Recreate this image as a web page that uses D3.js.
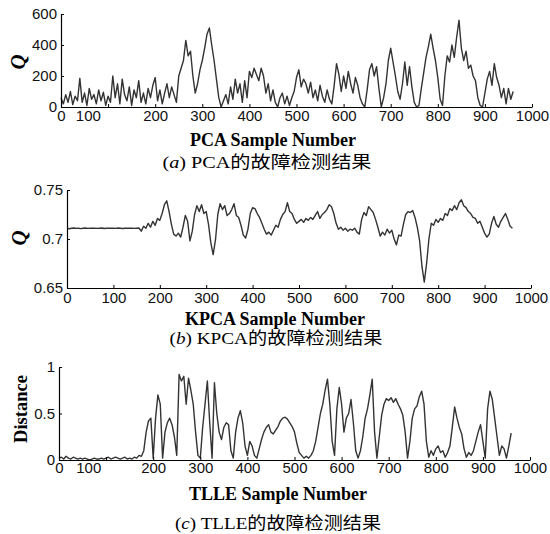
<!DOCTYPE html>
<head>
  <meta charset="utf-8">
  <script src="https://d3js.org/d3.v7.min.js"></script>
  <style>
    body { margin:0; background:#fff; }
    .tick text { font-family: "Liberation Sans", Arial, sans-serif; font-size: 15px; fill: #111; }
    .domain, .tick line { stroke: #000; }
  </style>
</head>

<body>
  <script>

  var width = 550;
  var height = 534;

  var sampleStep = 5;

  var xTickValues = [0, 100, 200, 300, 400, 500, 600, 700, 800, 900, 1000];

  // (a) PCA Q statistic
  var pcaQ = [
    60, 20, 80, 30, 100, 15, 70, 40, 185, 30,
    90, 10, 120, 50, 80, 20, 110, 40, 95, 10,
    70, 30, 200, 60, 150, 20, 180, 80, 40, 130,
    10, 110, 60, 170, 30, 90, 20, 120, 60, 140,
    190, 40, 110, 20, 90, 150, 60, 130, 80, 30,
    200, 250, 300, 430, 330, 360, 200, 90, 150, 240,
    300, 380, 470, 510, 400, 300, 180, 60, 0, 40,
    80, 20, 130, 50, 180, 90, 150, 30, 170, 60,
    230, 190, 250, 210, 170, 250, 200, 90, 150, 40,
    110, 30, 0, 60, 90, 20, 70, 10, 60, 100,
    190, 240, 130, 180, 150, 90, 160, 60, 110, 40,
    140, 70, 30, 110, 50, 20, 140, 280, 210, 100,
    200, 120, 230, 150, 90, 190, 140, 60, 20, 0,
    110, 240, 280, 200, 260, 120, 0, 60, 150, 300,
    380, 290, 200, 100, 50, 150, 290, 140, 260, 130,
    30, 0, 10, 120, 220, 320, 390, 470, 380, 300,
    190, 50, 10, 200, 330, 290, 400, 320, 450, 560,
    380, 300, 360, 250, 270, 200, 170, 60, 10, 0,
    90, 180, 230, 140, 280, 190, 140, 60, 120, 20,
    120, 50, 100
  ];
  var pcaYTicks = [0, 200, 400, 600];

  // (b) KPCA Q statistic
  var kpcaQ = [
    0.711, 0.7105, 0.711, 0.7112, 0.7108, 0.711, 0.7106, 0.711, 0.7112, 0.7108,
    0.711, 0.7109, 0.7111, 0.7108, 0.711, 0.7112, 0.7107, 0.711, 0.7109, 0.7111,
    0.711, 0.7108, 0.7112, 0.711, 0.7107, 0.711, 0.7111, 0.7109, 0.711, 0.7108,
    0.711, 0.7112,
    0.708, 0.713, 0.711, 0.716, 0.712, 0.718, 0.714, 0.721, 0.719, 0.726,
    0.735, 0.739, 0.728, 0.715, 0.705, 0.703, 0.706, 0.702, 0.712, 0.724,
    0.718, 0.698, 0.708, 0.725, 0.734, 0.728, 0.735, 0.726, 0.728, 0.715,
    0.696, 0.684, 0.699, 0.725, 0.736, 0.730, 0.734, 0.724, 0.726, 0.730,
    0.736, 0.724, 0.722, 0.714, 0.704, 0.701, 0.710, 0.726, 0.732, 0.731,
    0.726, 0.722, 0.716, 0.710, 0.705, 0.707, 0.704, 0.709, 0.714, 0.712,
    0.720, 0.725, 0.728, 0.737, 0.728, 0.726, 0.720, 0.716, 0.718, 0.720,
    0.717, 0.721, 0.719, 0.722, 0.720, 0.724, 0.728, 0.721, 0.725, 0.727,
    0.730, 0.735, 0.733, 0.726, 0.716, 0.710, 0.712, 0.709, 0.711, 0.708,
    0.710, 0.709, 0.711, 0.707, 0.705, 0.720, 0.727, 0.724, 0.733, 0.730,
    0.727, 0.720, 0.712, 0.703, 0.707, 0.704, 0.710, 0.706, 0.709, 0.700,
    0.694, 0.704, 0.703, 0.715, 0.725, 0.728, 0.727, 0.729, 0.722, 0.712,
    0.698, 0.672, 0.656, 0.675, 0.700, 0.716, 0.714, 0.720, 0.717, 0.721,
    0.719, 0.726, 0.724, 0.731, 0.729, 0.734, 0.730, 0.737, 0.740, 0.734,
    0.732, 0.728, 0.726, 0.722, 0.721, 0.716, 0.718, 0.712, 0.706, 0.702,
    0.705, 0.716, 0.723, 0.715, 0.712, 0.718, 0.722, 0.726, 0.720, 0.713,
    0.711
  ];
  var kpcaYTicks = [0.65, 0.7, 0.75];

  // (c) TLLE distance
  var tlleD = [
    0.02, 0.03, 0.01, 0.04, 0.02, 0.01, 0.03, 0.02, 0.01, 0.02,
    0.01, 0.02, 0.01, 0.00, 0.01, 0.02, 0.01, 0.01, 0.02, 0.01,
    0.02, 0.03, 0.01, 0.02, 0.03, 0.02, 0.01, 0.02, 0.03, 0.01,
    0.02, 0.01, 0.03, 0.02, 0.05, 0.04,
    0.10, 0.30, 0.42, 0.45, 0.02, 0.45, 0.70, 0.60, 0.02, 0.30,
    0.40, 0.45, 0.38, 0.25, 0.05, 0.92, 0.85, 0.90, 0.60, 0.88,
    0.75, 0.60, 0.30, 0.05, 0.02, 0.35, 0.60, 0.85, 0.40, 0.02,
    0.83, 0.50, 0.30, 0.22, 0.35, 0.40, 0.38, 0.10, 0.02, 0.30,
    0.45, 0.53, 0.40, 0.15, 0.05, 0.20, 0.15, 0.05, 0.02, 0.12,
    0.22, 0.30, 0.35, 0.38, 0.30, 0.28, 0.32, 0.36, 0.42, 0.45,
    0.46, 0.44, 0.40, 0.36, 0.30, 0.18, 0.08, 0.05, 0.02, 0.04,
    0.02, 0.05, 0.10, 0.20, 0.35, 0.50, 0.60, 0.75, 0.87, 0.60,
    0.20, 0.05, 0.55, 0.78, 0.60, 0.30, 0.45, 0.50, 0.65, 0.40,
    0.10, 0.02, 0.10, 0.25, 0.45, 0.55, 0.70, 0.87, 0.30, 0.02,
    0.25, 0.48, 0.60, 0.66, 0.64, 0.67, 0.62, 0.66, 0.60, 0.55,
    0.48, 0.30, 0.02, 0.20, 0.45, 0.55, 0.58, 0.68, 0.74, 0.60,
    0.20, 0.03, 0.10, 0.05, 0.12, 0.15, 0.08, 0.10, 0.03, 0.08,
    0.15, 0.35, 0.57, 0.45, 0.35, 0.28, 0.12, 0.03, 0.08, 0.05,
    0.10, 0.20, 0.30, 0.38, 0.20, 0.02, 0.55, 0.74, 0.65, 0.45,
    0.25, 0.05, 0.15, 0.12, 0.02, 0.15, 0.29
  ];
  var tlleYTicks = [0, 0.5, 1];

  // panel layout; label100At = where the squeezed "100" label sits (in sample units)
  var panels = [
    { values: pcaQ, yDomain: [0, 600], yTicks: pcaYTicks,
      left: 61, right: 532, top: 14, bottom: 107, label100At: 57, tickPad: 3,
      yTitle: "Q", yTitleItalic: true, yTitleBold: true, yTitleX: 18, yTitleY: 62, yTitleSize: 21,
      xTitle: "PCA Sample Number", xTitleX: 273, xTitleY: 146,
      letter: "a", method: "PCA", captionX: 267, captionY: 168, captionW: 209 },
    { values: kpcaQ, yDomain: [0.65, 0.75], yTicks: kpcaYTicks,
      left: 67, right: 531, top: 190, bottom: 288, label100At: 100, tickPad: 4,
      yTitle: "Q", yTitleItalic: true, yTitleBold: true, yTitleX: 19, yTitleY: 238, yTitleSize: 21,
      xTitle: "KPCA Sample Number", xTitleX: 275, xTitleY: 325,
      letter: "b", method: "KPCA", captionX: 276, captionY: 344, captionW: 213 },
    { values: tlleD, yDomain: [0, 1], yTicks: tlleYTicks,
      left: 59, right: 530, top: 367, bottom: 460, label100At: 62, tickPad: 2,
      yTitle: "Distance", yTitleItalic: false, yTitleBold: true, yTitleX: 21, yTitleY: 409, yTitleSize: 18.5,
      xTitle: "TLLE Sample Number", xTitleX: 278, xTitleY: 500,
      letter: "c", method: "TLLE", captionX: 278, captionY: 529, captionW: 206 }
  ];

  var svg = d3.select("body").append("svg")
    .attr("width", width)
    .attr("height", height);

  panels.forEach(function(p) {
    var xScale = d3.scaleLinear().domain([0, 1000]).range([p.left, p.right]);
    var yScale = d3.scaleLinear().domain(p.yDomain).range([p.bottom, p.top]);

    var g = svg.append("g");

    // the trace
    var line = d3.line()
      .x(function(d, i) { return xScale(i * sampleStep); })
      .y(function(d) { return yScale(d); });

    g.append("path")
      .datum(p.values)
      .attr("d", line)
      .attr("fill", "none")
      .attr("stroke", "#333")
      .attr("stroke-width", 1.4)
      .attr("stroke-linejoin", "round");

    // bottom axis, ticks pointing up into the plot
    var xAxisG = g.append("g")
      .attr("transform", "translate(0," + p.bottom + ")")
      .call(d3.axisBottom(xScale)
        .tickValues(xTickValues)
        .tickSizeInner(-3)
        .tickSizeOuter(0)
        .tickPadding(p.tickPad)
        .tickFormat(d3.format("d")));

    // the "100" label is squeezed next to "0" in two of the panels
    xAxisG.selectAll(".tick text")
      .filter(function(d) { return d === 100; })
      .attr("x", xScale(p.label100At) - xScale(100));

    // left axis, ticks pointing right
    g.append("g")
      .attr("transform", "translate(" + p.left + ",0)")
      .call(d3.axisLeft(yScale)
        .tickValues(p.yTicks)
        .tickSizeInner(-3)
        .tickSizeOuter(0)
        .tickPadding(4)
        .tickFormat(function(d) { return String(d); }));

    g.selectAll(".domain").attr("stroke-width", 1.2);

    // y title
    g.append("text")
      .attr("transform", "translate(" + p.yTitleX + "," + p.yTitleY + ") rotate(-90)")
      .attr("text-anchor", "middle")
      .attr("dy", "0.35em")
      .style("font-family", "'Liberation Serif', 'Times New Roman', serif")
      .style("font-size", p.yTitleSize + "px")
      .style("font-style", p.yTitleItalic ? "italic" : "normal")
      .style("font-weight", p.yTitleBold ? "bold" : "normal")
      .text(p.yTitle);

    // x title
    g.append("text")
      .attr("x", p.xTitleX)
      .attr("y", p.xTitleY)
      .attr("text-anchor", "middle")
      .style("font-family", "'Liberation Serif', 'Times New Roman', serif")
      .style("font-size", "18px")
      .style("font-weight", "bold")
      .text(p.xTitle);

    // caption
    var cap = g.append("text")
      .attr("x", p.captionX)
      .attr("y", p.captionY)
      .attr("text-anchor", "middle")
      .attr("textLength", p.captionW)
      .attr("lengthAdjust", "spacingAndGlyphs")
      .style("font-family", "'Liberation Serif', 'Noto Sans CJK SC', serif")
      .style("font-size", "17px");
    cap.append("tspan").text("(");
    cap.append("tspan").style("font-style", "italic").text(p.letter);
    cap.append("tspan").text(") " + p.method + "的故障检测结果");
  });

  </script>
</body>
